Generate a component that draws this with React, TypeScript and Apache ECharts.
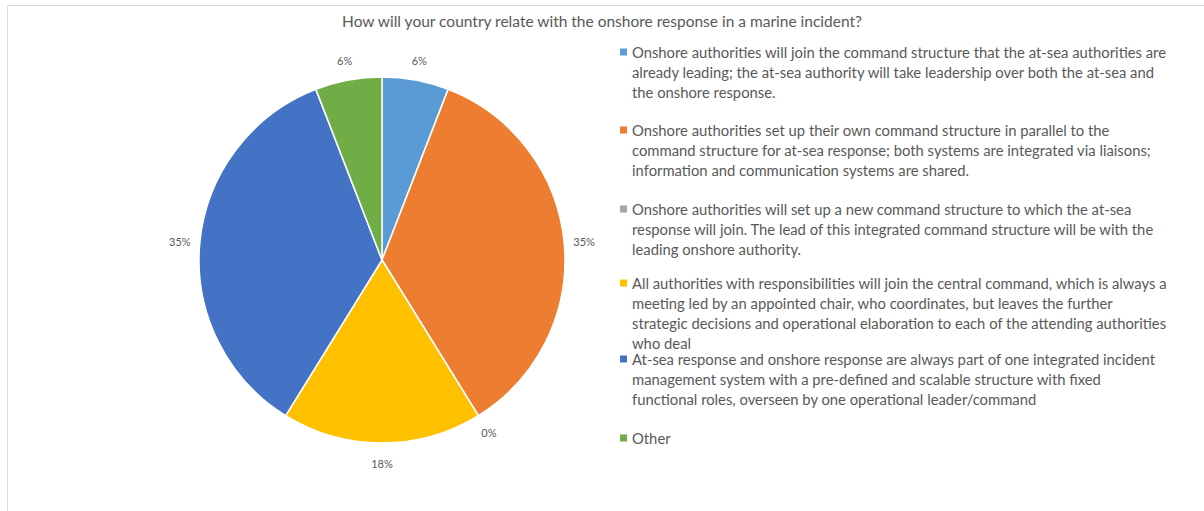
import React, { useEffect, useRef } from "react";
import * as echarts from "echarts";

const chartTitle =
  "How will your country relate with the onshore response in a marine incident?";

const categories = [
  "Onshore authorities will join the command structure that the at-sea authorities are\nalready leading; the at-sea authority will take leadership over both the at-sea and\nthe onshore response.",
  "Onshore authorities set up their own command structure in parallel to the\ncommand structure for at-sea response; both systems are integrated via liaisons;\ninformation and communication systems are shared.",
  "Onshore authorities will set up a new command structure to which the at-sea\nresponse will join. The lead of this integrated command structure will be with the\nleading onshore authority.",
  "All authorities with responsibilities will join the central command, which is always a\nmeeting led by an appointed chair, who coordinates, but leaves the further\nstrategic decisions and operational elaboration to each of the attending authorities\nwho deal",
  "At-sea response and onshore response are always part of one integrated incident\nmanagement system with a pre-defined and scalable structure with fixed\nfunctional roles, overseen by one operational leader/command",
  "Other",
];

const values = [1, 6, 0, 3, 6, 1];

const colors = ["#5B9BD5", "#ED7D31", "#A5A5A5", "#FFC000", "#4472C4", "#70AD47"];

const legendTops = [42, 120, 199, 273, 349, 428];

const FONT = "Lato";
const TEXT_COLOR = "#595959";
const LINE_H = 20;
const LEGEND_FS = 14.8;

export default function App() {
  const ref = useRef<HTMLDivElement>(null);

  useEffect(() => {
    if (!ref.current) return;
    const chart = echarts.init(ref.current, null, { renderer: "svg" });

    const rich: Record<string, any> = {
      g: { width: 5, height: 7 },
      s: { width: 12, height: 7 },
      t: { fontSize: LEGEND_FS, fontFamily: FONT, color: TEXT_COLOR, lineHeight: LINE_H },
    };
    colors.forEach((c, i) => {
      rich["m" + i] = { width: 7, height: 7, backgroundColor: c };
    });

    const legends = categories.map((name, i) => ({
      data: [name],
      left: 615,
      top: legendTops[i],
      orient: "vertical",
      icon: "none",
      itemWidth: 0,
      itemHeight: 0,
      itemGap: 0,
      padding: 0,
      selectedMode: false,
      formatter: (n: string) => {
        const idx = categories.indexOf(n);
        return n
          .split("\n")
          .map((l, k) => (k === 0 ? `{m${idx}|}{g|}` : `{s|}`) + `{t|${l}}`)
          .join("\n");
      },
      textStyle: {
        fontSize: LEGEND_FS,
        fontFamily: FONT,
        color: TEXT_COLOR,
        lineHeight: LINE_H,
        rich,
      },
    }));

    const data = categories.map((n, i) => ({
      name: n,
      value: values[i],
      itemStyle: { color: colors[i] },
    }));

    chart.setOption({
      animation: false,
      title: {
        text: chartTitle,
        left: "center",
        top: 13,
        padding: 0,
        textStyle: {
          fontSize: 15.5,
          fontWeight: "normal",
          color: TEXT_COLOR,
          fontFamily: FONT,
        },
      },
      legend: legends,
      graphic: [
        {
          type: "rect",
          silent: true,
          shape: { x: 7.5, y: 5.5, width: 1400, height: 700 },
          style: { fill: "none", stroke: "#D9D9D9", lineWidth: 1 },
        },
      ],
      series: [
        {
          type: "pie",
          center: [382, 260],
          radius: 183,
          startAngle: 90,
          clockwise: true,
          label: { show: false },
          labelLine: { show: false },
          itemStyle: { borderColor: "#ffffff", borderWidth: 1.5 },
          emphasis: { disabled: true },
          data,
        },
        {
          type: "pie",
          center: [382, 260],
          radius: [190, 210],
          startAngle: 90,
          clockwise: true,
          silent: true,
          legendHoverLink: false,
          itemStyle: { color: "transparent", borderWidth: 0 },
          labelLine: { show: false },
          label: {
            show: true,
            position: "inside",
            fontSize: 11,
            fontFamily: FONT,
            color: TEXT_COLOR,
            formatter: (p: any) => Math.round(p.percent) + "%",
          },
          emphasis: { disabled: true },
          data: categories.map((n, i) => ({ name: n, value: values[i] })),
        },
      ],
    });

    return () => chart.dispose();
  }, []);

  return (
    <div
      ref={ref}
      style={{ position: "fixed", left: 0, top: 0, width: 1204, height: 511, background: "#fff" }}
    />
  );
}
